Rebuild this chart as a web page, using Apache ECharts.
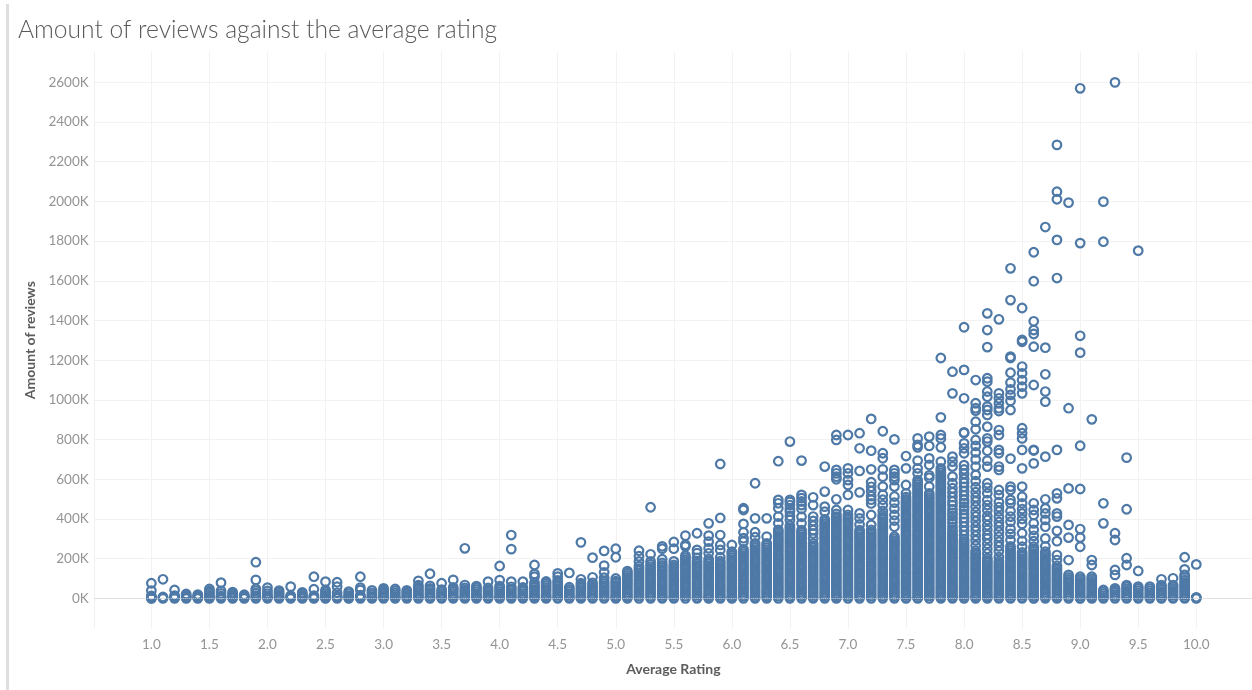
<!DOCTYPE html>
<html><head><meta charset="utf-8">
<script src="https://cdn.jsdelivr.net/npm/echarts@6/dist/echarts.min.js"></script>
<style>
html,body{margin:0;padding:0;background:#fff;width:1252px;height:690px;overflow:hidden}
#band{position:absolute;left:6px;top:4px;width:3px;height:686px;background:#dedede}
#c{position:absolute;left:0;top:0;width:1252px;height:690px}
</style></head><body>
<div id="c"></div><div id="band"></div>
<script>
// Amount of reviews (thousands) at each average rating
const r10=[76,39,12,6,3,1,0], r11=[96,7,3,0], r12=[42,14,8,3,0], r13=[22,14,8,3,0], r14=[19,13,6,2,0];
const r15=[47,36,27,16,9,3,0], r16=[79,38,25,12,6,0], r17=[31,22,13,7,2,0], r18=[18,12,6,2,0];
const r19=[182,93,48,38,26,14,6,0], r20=[54,37,24,12,6,0], r21=[39,30,20,11,5,0], r22=[59,14,8,3,0];
const r23=[30,22,12,6,2,0], r24=[109,46,14,7,2,0], r25=[84,42,33,24,15,8,2,0], r26=[81,59,28,12,5,0];
const r27=[34,24,14,7,2,0], r28=[109,54,42,16,8,3,0], r29=[40,28,18,9,3,0], r30=[50,41,31,22,12,4,0];
const r31=[47,38,28,19,10,3,0], r32=[40,31,22,12,5,0], r33=[88,66,56,45,35,24,14,6,0];
const r34=[124,63,50,41,30,21,11,3,0], r35=[76,44,35,24,15,6,0], r36=[93,55,46,36,25,14,6,0];
const r37=[252,67,52,41,32,21,11,3,0], r38=[62,53,44,33,22,13,4,0], r39=[84,52,42,32,21,12,4,0];
const r40=[163,92,62,54,43,33,23,12,4,0], r41=[319,248,84,58,47,38,27,16,8,0], r42=[84,55,46,35,24,14,5,0];
const r43=[168,123,109,78,66,56,45,34,23,13,4,0], r44=[85,76,65,54,44,33,22,13,4,0];
const r45=[126,109,90,80,70,58,47,37,26,16,5,0], r46=[128,56,45,35,24,15,5,0];
const r47=[282,96,76,66,55,44,33,22,12,4,0], r48=[205,106,78,67,56,46,35,24,14,4,0];
const r49=[239,165,131,104,86,75,64,53,42,32,21,10,0], r50=[250,207,100,86,76,65,54,44,33,22,12,3,0];
const r51=[137,127,116,105,94,84,73,62,51,41,30,19,9,0];
const r52=[240,212,186,162,150,139,128,117,107,96,85,74,64,53,42,32,21,11,0];
const r53=[459,222,186,172,160,149,138,127,116,106,95,84,73,62,52,41,30,20,9,0];
const r54=[262,250,197,178,166,155,144,134,123,112,101,90,80,69,58,47,36,26,15,5,0];
const r55=[284,250,186,168,157,146,136,125,114,103,92,82,71,60,49,38,28,17,7,0];
const r56=[316,270,262,215,205,194,183,172,162,151,140,129,118,108,97,86,75,65,54,43,32,22,11,0];
const r57=[328,244,228,204,188,177,166,156,145,134,123,112,102,91,80,70,59,48,37,26,16,5,0];
const r58=[378,316,286,252,227,198,186,175,164,153,143,132,121,110,99,89,78,67,56,46,35,24,13,3,0];
const r59=[677,405,319,269,244,207,188,177,166,155,145,134,123,112,102,91,80,69,58,48,37,26,15,5,0];
const r60=[269,235,228,217,206,195,185,174,163,152,142,131,120,109,98,88,77,66,55,45,34,23,12,2,0];
const r61=[454,445,375,333,303,286,247,236,225,214,204,193,182,171,160,150,139,128,117,107,96,85,74,63,53,42,31,20,10,0];
const r62=[580,403,333,308,277,266,255,244,233,223,212,201,190,179,169,158,147,136,126,115,104,93,82,72,61,50,39,29,18,7,0];
const r63=[403,311,277,267,256,245,234,224,213,202,191,180,170,159,148,137,127,116,105,94,83,73,62,51,40,30,19,8,0];
const r64=[691,496,479,454,412,378,345,335,324,313,302,292,281,270,259,248,238,227,216,205,195,184,173,162,151,141,130,119,108,98,87,76,65,54,44,33,22,11,0];
const r65=[790,496,486,470,452,437,415,395,366,354,343,333,322,311,300,290,279,268,257,246,236,225,214,203,193,182,171,160,149,139,128,117,106,95,85,74,63,52,41,31,20,9,0];
const r66=[694,521,505,488,470,450,411,378,344,333,322,311,301,290,279,268,257,247,236,225,214,204,193,182,171,160,150,139,128,117,106,96,85,74,63,53,42,31,20,10,0];
const r67=[509,470,412,390,366,344,327,302,277,266,255,244,233,223,212,201,190,180,169,158,147,136,126,115,104,93,83,72,61,50,39,29,18,7,0];
const r68=[664,538,462,437,398,386,375,364,353,343,332,321,310,300,289,278,267,256,246,235,224,213,203,192,181,170,159,149,138,127,116,105,95,84,73,62,52,41,30,19,9,0];
const r69=[823,798,647,630,613,600,499,445,425,412,401,390,380,369,358,347,337,326,315,304,293,283,272,261,250,240,229,218,207,196,186,175,164,153,143,132,121,110,99,89,78,67,56,46,35,24,13,3,0];
const r70=[823,655,630,596,571,521,445,421,410,399,388,378,367,356,345,335,324,313,302,291,281,270,259,248,238,227,216,205,194,184,173,162,151,141,130,119,108,97,87,76,65,54,44,33,22,11,0];
const r71=[832,756,642,534,428,403,372,344,333,322,311,301,290,279,268,257,247,236,225,214,204,193,182,171,160,150,139,128,117,106,96,85,74,63,53,42,31,20,10,0];
const r72=[904,744,650,585,562,540,515,497,478,420,370,345,334,323,312,302,291,280,269,259,248,237,226,215,205,194,183,172,162,151,140,129,118,108,97,86,75,65,54,43,32,21,11,0];
const r73=[842,731,706,650,613,563,522,497,470,440,420,409,398,387,377,366,355,344,333,323,312,301,290,280,269,258,247,236,226,215,204,193,183,172,161,150,139,129,118,107,96,86,75,64,53,42,32,21,10,0];
const r74=[801,647,630,613,596,563,513,482,452,420,392,361,311,300,289,279,268,257,246,235,225,214,203,192,182,171,160,149,138,128,117,106,95,85,74,63,52,41,31,20,9,0];
const r75=[717,655,571,529,510,499,488,477,466,456,445,434,423,413,402,391,380,369,359,348,337,326,316,305,294,283,272,262,251,240,229,219,208,197,186,175,165,154,143,132,122,111,100,89,78,68,57,46,35,25,14,3,0];
const r76=[806,773,761,694,655,630,596,585,574,563,553,542,531,520,510,499,488,477,466,456,445,434,423,413,402,391,380,369,359,348,337,326,316,305,294,283,272,262,251,240,229,219,208,197,186,175,165,154,143,132,122,111,100,89,78,68,57,46,35,25,14,3,0];
const r77=[815,768,705,672,620,608,563,529,518,507,497,486,475,464,453,443,432,421,410,400,389,378,367,356,346,335,324,313,303,292,281,270,259,249,238,227,216,206,195,184,173,162,152,141,130,119,109,98,87,76,65,55,44,33,22,12,0];
const r78=[1211,912,823,806,761,689,655,644,633,622,612,601,590,579,569,558,547,536,525,515,504,493,482,472,461,450,439,428,418,407,396,385,375,364,353,342,331,321,310,299,288,278,267,256,245,234,224,213,202,191,181,170,159,148,137,127,116,105,94,84,73,62,51,40,30,19,8,0];
const r79=[1142,1033,714,689,664,613,580,555,533,510,488,470,448,430,415,398,380,360,345,330,319,308,298,287,276,265,254,244,233,222,211,201,190,179,168,157,147,136,125,114,104,93,82,71,60,50,39,28,17,7,0];
const r80=[1366,1151,1008,836,833,781,756,731,671,650,628,602,582,562,540,518,497,480,462,446,425,405,385,362,340,318,298,287,276,265,254,244,233,222,211,201,190,179,168,157,147,136,125,114,104,93,82,71,60,50,39,28,17,7,0];
const r81=[1100,983,958,946,890,852,798,768,735,700,664,622,590,560,535,510,488,462,435,412,388,362,340,315,292,265,240,229,218,207,197,186,175,164,153,143,132,121,110,99,89,78,67,56,46,35,24,13,3,0];
const r82=[1436,1352,1266,1109,1092,1042,1016,966,949,924,865,806,790,744,694,664,580,558,530,495,470,445,415,395,368,345,320,300,275,250,226,202,191,180,170,159,148,137,126,116,105,94,83,73,62,51,40,29,19,8,0];
const r83=[1406,1033,1008,983,958,944,848,823,748,731,664,647,546,521,485,460,438,410,385,362,336,310,285,262,238,208,188,177,166,156,145,134,123,112,102,91,80,69,59,48,37,26,15,5,0];
const r84=[1663,1503,1218,1211,1137,1087,1053,1025,995,949,704,563,546,496,479,440,412,386,350,325,294,262,251,240,229,218,208,197,186,175,164,154,143,132,121,111,100,89,78,67,57,46,35,24,14,3,0];
const r85=[1463,1302,1293,1168,1134,1100,1067,1033,857,832,806,748,655,563,512,479,450,428,400,375,328,290,260,232,221,210,199,189,178,167,156,146,135,124,113,102,92,81,70,59,49,38,27,16,5,0];
const r86=[1744,1598,1396,1352,1332,1268,1075,748,745,680,479,445,420,378,345,315,288,260,249,238,227,217,206,195,184,173,163,152,141,130,120,109,98,87,76,66,55,44,33,23,12,1,0];
const r87=[1871,1263,1129,1042,991,714,499,453,428,395,361,302,262,235,224,213,202,192,181,170,159,149,138,127,116,105,95,84,73,62,51,41,30,19,8,0];
const r88=[2285,2049,2011,1806,1614,748,529,504,428,412,340,288,218,193,164,153,143,132,121,110,99,89,78,67,56,46,35,24,13,3,0];
const r89=[1994,958,554,370,306,193,118,106,95,85,74,63,52,41,31,20,9,0];
const r90=[2570,1790,1323,1238,769,551,349,306,260,109,98,87,76,65,55,44,33,22,12,1,0];
const r91=[902,193,168,109,98,87,76,65,54,44,33,22,12,3,0];
const r92=[1999,1797,479,378,42,33,24,14,5,0];
const r93=[2600,328,294,143,118,50,41,31,20,10,0];
const r94=[709,449,202,168,67,58,47,36,25,14,4,0];
const r95=[1752,138,59,50,39,28,18,7,0];
const r96=[59,49,38,27,16,6,0];
const r97=[96,67,57,46,35,25,14,3,0];
const r98=[101,67,58,47,36,26,15,4,0];
const r99=[207,146,118,106,92,80,69,58,47,37,26,15,4,0];
const r100=[171,5,2,0];
const ratings=[1.0,1.1,1.2,1.3,1.4,1.5,1.6,1.7,1.8,1.9,2.0,2.1,2.2,2.3,2.4,2.5,2.6,2.7,2.8,2.9,3.0,3.1,3.2,3.3,3.4,3.5,3.6,3.7,3.8,3.9,4.0,4.1,4.2,4.3,4.4,4.5,4.6,4.7,4.8,4.9,5.0,5.1,5.2,5.3,5.4,5.5,5.6,5.7,5.8,5.9,6.0,6.1,6.2,6.3,6.4,6.5,6.6,6.7,6.8,6.9,7.0,7.1,7.2,7.3,7.4,7.5,7.6,7.7,7.8,7.9,8.0,8.1,8.2,8.3,8.4,8.5,8.6,8.7,8.8,8.9,9.0,9.1,9.2,9.3,9.4,9.5,9.6,9.7,9.8,9.9,10.0];
const reviewsByRating=[r10,r11,r12,r13,r14,r15,r16,r17,r18,r19,r20,r21,r22,r23,r24,r25,r26,r27,r28,r29,r30,r31,r32,r33,r34,r35,r36,r37,r38,r39,r40,r41,r42,r43,r44,r45,r46,r47,r48,r49,r50,r51,r52,r53,r54,r55,r56,r57,r58,r59,r60,r61,r62,r63,r64,r65,r66,r67,r68,r69,r70,r71,r72,r73,r74,r75,r76,r77,r78,r79,r80,r81,r82,r83,r84,r85,r86,r87,r88,r89,r90,r91,r92,r93,r94,r95,r96,r97,r98,r99,r100];
const xTicks=[1,1.5,2,2.5,3,3.5,4,4.5,5,5.5,6,6.5,7,7.5,8,8.5,9,9.5,10];
const yTicks=[0,200,400,600,800,1000,1200,1400,1600,1800,2000,2200,2400,2600];

const font='Lato';
const points=ratings.flatMap((r,i)=>reviewsByRating[i].map(v=>[r,v]));
const chart=echarts.init(document.getElementById('c'),null,{renderer:'canvas'});
chart.setOption({
  animation:false,
  backgroundColor:'#fff',
  title:{text:'Amount of reviews against the average rating',left:18,top:18,padding:0,
    textStyle:{fontFamily:font,fontWeight:300,fontSize:24.6,color:'#5a5a5a'}},
  grid:{left:94.7,right:0,top:52,bottom:61.7,containLabel:false},
  xAxis:{type:'value',min:0.512,max:10.48,name:'Average Rating',nameLocation:'middle',nameGap:34,
    nameTextStyle:{fontFamily:font,fontWeight:700,fontSize:14,color:'#5c5c5c'},
    axisLine:{show:true,lineStyle:{color:'#f0f0f0'}},axisTick:{show:false,customValues:xTicks},
    axisLabel:{customValues:xTicks,margin:9,fontFamily:font,fontSize:13.5,color:'#949494',formatter:v=>v.toFixed(1)},
    splitLine:{show:true,lineStyle:{color:'#f2f2f2'}}},
  yAxis:{type:'value',min:-151,max:2753,name:'Amount of reviews',nameLocation:'middle',nameGap:50,
    nameTextStyle:{fontFamily:font,fontWeight:700,fontSize:14,color:'#5c5c5c'},
    axisLine:{show:true,lineStyle:{color:'#f0f0f0'}},axisTick:{show:false,customValues:yTicks},
    axisLabel:{customValues:yTicks,margin:6,fontFamily:font,fontSize:13.5,color:'#949494',formatter:v=>v+'K'},
    splitLine:{show:true,lineStyle:{color:'#f2f2f2'}}},
  series:[{type:'scatter',data:points,symbol:'circle',symbolSize:8.6,silent:true,
    itemStyle:{color:'rgba(0,0,0,0)',borderColor:'#4e79a7',borderWidth:2.2,opacity:1},
    markLine:{silent:true,symbol:'none',label:{show:false},animation:false,
      lineStyle:{color:'#d4d4d4',type:'dotted',width:1},data:[{yAxis:0}]}}]
});
</script></body></html>
